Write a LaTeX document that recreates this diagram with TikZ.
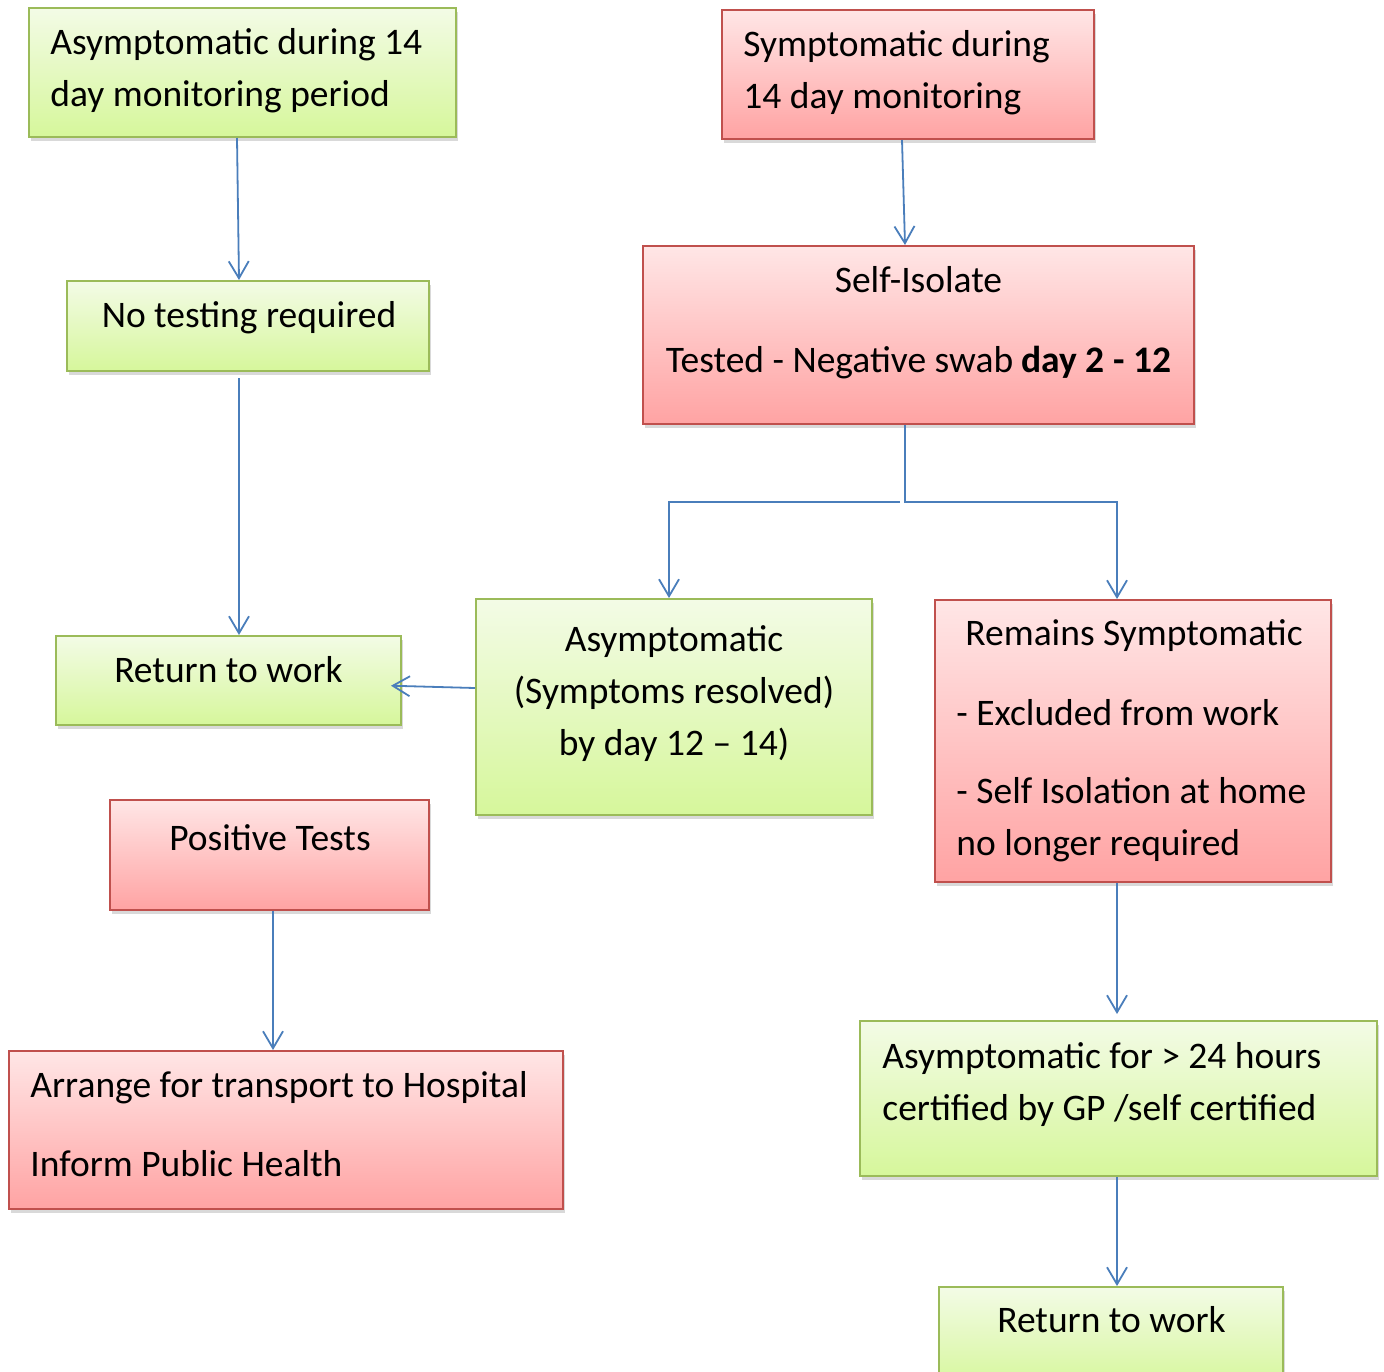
\documentclass[tikz,border=0pt]{standalone}
\usepackage{fontspec}
\setmainfont{Carlito}
\usepackage{tikz}
\usetikzlibrary{calc, positioning, arrows.meta, shadows}

\definecolor{gtop}{RGB}{243,251,230}
\definecolor{gbot}{RGB}{214,247,155}
\definecolor{gline}{HTML}{9BBB59}
\definecolor{rtop}{RGB}{255,230,230}
\definecolor{rbot}{RGB}{255,163,163}
\definecolor{rline}{HTML}{C0504D}
\definecolor{arrowblue}{HTML}{4A7EBB}

\begin{document}
\begin{tikzpicture}[
    x=0.5pt, y=-0.5pt,
    box/.style={draw, line width=1pt, inner sep=0pt,
        drop shadow={opacity=0.3, shadow xshift=1pt, shadow yshift=-2pt}},
    gbox/.style={box, draw=gline, top color=gtop, bottom color=gbot},
    rbox/.style={box, draw=rline, top color=rtop, bottom color=rbot},
    txt/.style={inner sep=0pt, font=\fontsize{18.75}{26}\selectfont},
    arr/.style={draw=arrowblue, line width=0.9pt,
        -{Straight Barb[length=8.5pt, width=10pt]}}
]
    \useasboundingbox (0,0) rectangle (1384,1371);

    % Left Column Boxes
    \node[gbox, minimum width=213.5pt, minimum height=64.5pt] (a1) at (242.5, 72.5) {};
    \node[gbox, minimum width=181pt, minimum height=45pt] (notest) at (248, 326) {};
    \node[gbox, minimum width=172.5pt, minimum height=44.5pt] (ret1) at (228.5, 680.5) {};
    \node[rbox, minimum width=159.5pt, minimum height=55pt] (pos) at (269.5, 855) {};
    \node[rbox, minimum width=277pt, minimum height=79pt] (arrange) at (286, 1130) {};

    % Right Column Boxes
    \node[rbox, minimum width=186pt, minimum height=64.5pt] (s1) at (908, 74.5) {};
    \node[rbox, minimum width=275.5pt, minimum height=89pt] (iso) at (918.5, 335) {};
    \node[gbox, minimum width=198pt, minimum height=108pt] (asym) at (674, 707) {};
    \node[rbox, minimum width=198pt, minimum height=141pt] (remain) at (1133, 741) {};
    \node[gbox, minimum width=258.5pt, minimum height=77.5pt] (cert) at (1118.5, 1098.5) {};
    \node[gbox, minimum width=172pt, minimum height=50pt] (ret2) at (1111, 1337) {};

    % Texts
    \node[txt, anchor=north west, align=left] (a1-t) at (50, 17.6)
        {\strut Asymptomatic during 14\\day monitoring period};
    \node[txt, anchor=north] (notest-t) at (249, 290.6) {\strut No testing required};
    \node[txt, anchor=north] (ret1-t) at (228.5, 645.6) {\strut Return to work};
    \node[txt, anchor=north] (pos-t) at (270, 813.6) {\strut Positive Tests};
    \node[txt, anchor=north west, align=left] (arrange-t) at (30, 1060.6)
        {\strut Arrange for transport to Hospital\\[13.5pt]Inform Public Health};

    \node[txt, anchor=north west, align=left] (s1-t) at (743, 19.6)
        {\strut Symptomatic during\\14 day monitoring};
    \node[txt, anchor=north, align=center] (iso-t) at (918.5, 255.6)
        {\strut Self-Isolate\\[14pt]Tested - Negative swab \textbf{day 2 - 12}};
    \node[txt, anchor=north, align=center] (asym-t) at (674, 614.6)
        {\strut Asymptomatic\\(Symptoms resolved)\\by day 12 – 14)};
    \node[txt, anchor=north west, align=left] (remain-t) at (956, 608.6)
        {\strut\hspace*{4.5pt}Remains Symptomatic\\[14pt]- Excluded from work\\[13pt]- Self Isolation at home\\no longer required};
    \node[txt, anchor=north west, align=left] (cert-t) at (882, 1031.6)
        {\strut Asymptomatic for > 24 hours\\certified by GP /self certified};
    \node[txt, anchor=north] (ret2-t) at (1111.5, 1295.6) {\strut Return to work};

    % Connectors (Left)
    \draw[arr] ([xshift=-2.75pt]a1.south) -- ([xshift=-4.5pt]notest.north);
    \draw[arr] ([xshift=-4.5pt, yshift=-3pt]notest.south) -- ([xshift=5.25pt]ret1.north);
    \draw[arr] ([xshift=1.75pt]pos.south) -- ([xshift=-6.5pt]arrange.north);
    \draw[arr, shorten >=-5.5pt] ([yshift=9.5pt]asym.west) -- ([yshift=-2.75pt]ret1.east);

    % Connectors (Right)
    \draw[arr] ([xshift=-3pt]s1.south) -- ([xshift=-6.75pt]iso.north);
    \coordinate (fork) at (905, 502);
    \draw[arr] ([xshift=-6.75pt]iso.south) -- (fork) -| ([xshift=-8pt]remain.north);
    \draw[arr] ([xshift=-2.5pt]fork) -| ([xshift=-2.5pt]asym.north);
    \draw[arr, shorten >=3pt] ([xshift=-8pt]remain.south) -- ([xshift=-0.75pt]cert.north);
    \draw[arr] ([xshift=-0.75pt]cert.south) -- ([xshift=3pt]ret2.north);

\end{tikzpicture}
\end{document}
